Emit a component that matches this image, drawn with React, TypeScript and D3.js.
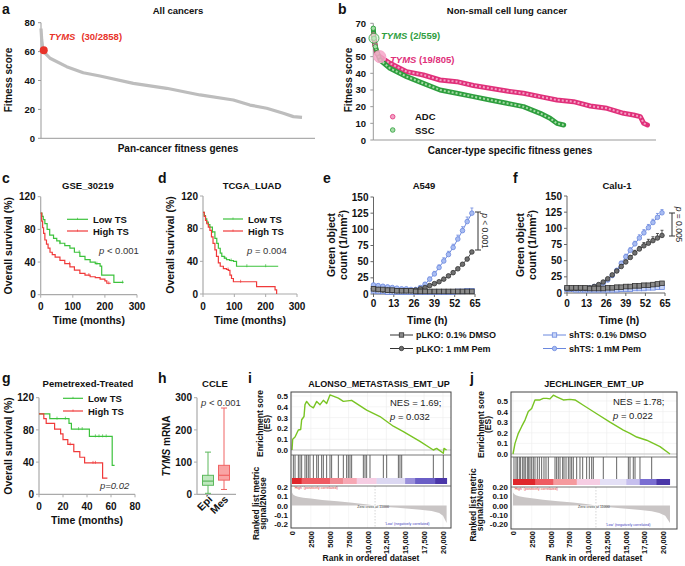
import React from 'react';
import * as d3 from 'd3';

const FONT = '"Liberation Sans", Arial, Helvetica, sans-serif';

// ---------------- Panel a ----------------
const aRank = [0, 8, 18, 44, 99, 281, 463, 646, 1011, 1376, 1741, 2106, 2288, 2471, 2653, 2763, 2858];
const aScore = [76, 68, 63, 59, 55.4, 49.6, 45.4, 43.1, 38, 34.6, 30, 26.5, 23, 20.8, 17.3, 15, 14.5];
const aYTicks = [0, 20, 40, 60, 80];
const aTyms = { rank: 30, score: 61 };

// ---------------- Panel b ----------------
const adcRank = [0, 3, 5, 10, 19, 49, 98, 147, 196, 245, 294, 343, 392, 441, 490, 539, 588, 637, 686, 735, 764, 784, 794, 805];
const adcScore = [63, 60, 57, 52, 50, 46, 41, 39, 36, 35, 32.7, 31, 29.4, 28, 26, 24, 23, 20.4, 19, 16, 15, 14, 10, 9];
const sscRank = [0, 2, 6, 12, 20, 49, 98, 147, 196, 245, 294, 343, 392, 441, 490, 519, 539, 559];
const sscScore = [67, 61, 56, 52, 48, 43, 38, 34, 30, 28, 26, 24, 22, 20, 16, 13, 10, 9];
const bYTicks = [0, 10, 20, 30, 40, 50, 60, 70];
const bTymsSsc = { rank: 2, score: 61 };
const bTymsAdc = { rank: 19, score: 50 };

// ---------------- Survival panels ----------------
const survYTicks = [0, 40, 80, 120];
const cXTicks = [0, 100, 200, 300];
const cLowT = [0, 4, 8, 13, 20, 28, 40, 50, 60, 75, 91, 105, 122, 138, 154, 170, 185, 190, 228, 258];
const cLowS = [100, 96, 92, 87, 80, 73, 69, 66, 63, 60, 57, 52, 47, 43, 40, 38, 35, 24, 15, 15];
const cHighT = [0, 3, 6, 9, 13, 18, 23, 29, 36, 45, 60, 75, 91, 105, 122, 138, 154, 170, 185, 200, 206, 218];
const cHighS = [100, 90, 82, 75, 67, 62, 57, 52, 49, 46, 42, 38, 34, 30, 26, 24, 22, 21, 19, 17, 14, 14];
const cLowCens = [60, 120, 175, 255];
const cHighCens = [90, 150, 212];

const dLowT = [0, 4, 8, 12, 17, 22, 30, 38, 44, 49, 55, 60, 68, 75, 85, 97, 107, 240];
const dLowS = [100, 96, 92, 88, 85, 82, 76, 68, 62, 56, 50, 46, 44, 42, 41, 40, 34, 34];
const dHighT = [0, 4, 8, 12, 17, 22, 27, 32, 38, 43, 49, 55, 65, 75, 81, 86, 91, 97, 166, 171, 224, 230, 235];
const dHighS = [100, 95, 90, 86, 82, 78, 70, 62, 54, 46, 38, 34, 31, 30, 29, 23, 19, 15, 15, 9, 9, 5, 0];
const dLowCens = [30, 70, 90, 140, 200];
const dHighCens = [80, 120];

const gXTicks = [0, 20, 40, 60, 80];
const gLowT = [0, 9, 25, 27, 42, 61, 63];
const gLowS = [100, 94, 88, 81, 72, 36, 36];
const gHighT = [0, 4, 6, 13, 18, 20, 24, 29, 34, 38, 53, 57];
const gHighS = [100, 94, 88, 81, 75, 68, 62, 53, 46, 39, 20, 20];
const gLowCens = [15, 22, 33, 36, 47, 50, 53, 56];
const gHighCens = [26, 45, 47];

// ---------------- Growth panels (e, f) ----------------
const growthTime = [0, 3, 6, 9, 12, 15, 18, 21, 24, 27, 30, 33, 36, 39, 42, 45, 48, 51, 54, 57, 60, 63];
const growthXTicks = [0, 13, 26, 39, 52, 65];
const growthYTicks = [0, 25, 50, 75, 100, 125, 150];
const eLkoDmso = [8, 7, 7, 6, 6, 5, 5, 5, 5, 4, 4, 4, 4, 4, 4, 4, 4, 4, 4, 4, 4, 4];
const eLkoPem = [8, 7, 6, 6, 5, 5, 5, 5, 5, 6, 8, 10, 13, 16, 19, 23, 28, 33, 39, 46, 54, 65];
const eLkoPemErr = [1, 1, 1, 1, 1, 1, 1, 1, 1, 1, 1, 1, 1, 1, 1, 2, 2, 2, 2, 2, 2, 2];
const eShDmso = [5, 4, 4, 3, 3, 3, 3, 3, 3, 3, 3, 3, 3, 3, 3, 3, 3, 3, 4, 4, 5, 5];
const eShPem = [14, 13, 12, 11, 10, 9, 8, 8, 7, 7, 10, 15, 23, 31, 41, 51, 61, 72, 85, 98, 112, 125];
const eShPemErr = [2, 2, 2, 1, 1, 1, 1, 1, 1, 1, 2, 3, 3, 4, 4, 5, 5, 5, 6, 6, 7, 8];

const fLkoDmso = [8, 8, 8, 8, 8, 7, 7, 7, 7, 8, 8, 9, 9, 10, 10, 11, 11, 12, 12, 13, 14, 15];
const fLkoPem = [7, 7, 7, 7, 7, 8, 10, 13, 17, 22, 28, 34, 41, 48, 55, 62, 68, 73, 77, 81, 85, 89];
const fLkoPemErr = [1, 1, 1, 1, 1, 1, 1, 1, 1, 2, 2, 2, 3, 3, 3, 4, 4, 5, 6, 6, 7, 8];
const fShDmso = [6, 6, 5, 5, 5, 5, 5, 5, 5, 5, 5, 5, 6, 6, 6, 7, 7, 7, 8, 8, 9, 9];
const fShPem = [7, 7, 7, 7, 7, 8, 10, 12, 15, 20, 27, 35, 46, 56, 66, 76, 85, 93, 101, 109, 117, 124];
const fShPemErr = [1, 1, 1, 1, 1, 1, 1, 1, 2, 2, 2, 3, 3, 4, 4, 4, 5, 5, 5, 5, 6, 5];

// ---------------- Panel h ----------------
const hGroups = ['Epi', 'Mes'];
const hMin = [3, 15];
const hQ1 = [28, 44];
const hMed = [41, 59];
const hQ3 = [59, 90];
const hMax = [131, 268];
const hYTicks = [0, 100, 200, 300];

// ---------------- GSEA panels ----------------
const rankTicks = [0, 2500, 5000, 7500, 10000, 12500, 15000, 17500, 20000];
const rankTickLabels = ['0', '2500', '5000', '7500', '10,000', '12,500', '15,000', '17,500', '20,000'];
const esTicks = [0, 0.1, 0.2, 0.3, 0.4, 0.5];
const metTicks = [0.2, 0.1, 0, -0.1, -0.2];

const iEsRank = [0, 90, 400, 840, 1150, 1280, 1590, 1720, 1940, 2380, 2830, 3270, 3710, 4150, 4590, 5030, 6140, 6800, 7900, 9890, 11650, 13420, 14750, 16950, 18720, 19160, 20040, 20130, 20480];
const iEsVal = [0.0, 0.1, 0.12, 0.185, 0.19, 0.28, 0.31, 0.42, 0.45, 0.41, 0.39, 0.45, 0.42, 0.46, 0.43, 0.51, 0.48, 0.45, 0.46, 0.37, 0.31, 0.22, 0.17, 0.08, 0.0, 0.015, -0.03, 0.015, 0.0];
const iHits = [180, 400, 840, 1060, 1280, 1720, 1940, 2160, 2380, 2830, 3270, 3490, 3930, 4150, 4590, 5030, 5250, 6140, 6800, 7240, 7460, 7680, 7900, 9450, 9670, 9890, 10330, 12100, 12540, 14090, 14300, 14530, 18720, 20040];
const iSegRank = [0, 1280, 5030, 6800, 8570, 11200, 14980, 16300, 18950, 20500];
const iSegColor = ['#e0262b', '#ef5b62', '#f08a92', '#f7a8b4', '#f6cde3', '#dcd8f2', '#9a90da', '#6a5ec6', '#4a36a8'];
const iMetRank = [0, 150, 400, 800, 1500, 2500, 4000, 6000, 8000, 10000, 11000, 12500, 14000, 15500, 17000, 18500, 19500, 20000, 20480];
const iMetVal = [0.14, 0.12, 0.105, 0.095, 0.085, 0.075, 0.06, 0.045, 0.03, 0.012, 0, -0.015, -0.025, -0.035, -0.045, -0.06, -0.08, -0.11, -0.19];

const jEsRank = [0, 270, 710, 1160, 1600, 2040, 2490, 2930, 3600, 4040, 4490, 4930, 5380, 5820, 6710, 7600, 8270, 9380, 11160, 12930, 14710, 15600, 16490, 17820, 18710, 19600, 20930];
const jEsVal = [0.0, 0.1, 0.195, 0.26, 0.32, 0.4, 0.43, 0.51, 0.51, 0.525, 0.525, 0.52, 0.555, 0.54, 0.51, 0.515, 0.51, 0.46, 0.38, 0.3, 0.225, 0.195, 0.16, 0.13, 0.1, 0.07, 0.0];
const jHits = [130, 400, 580, 840, 1020, 1290, 1470, 1640, 1910, 2090, 2270, 2490, 2710, 2930, 3240, 3510, 3820, 4130, 4400, 4710, 5600, 5820, 6040, 6270, 6620, 6800, 7070, 7380, 7600, 7820, 8040, 8490, 8930, 9290, 9820, 10180, 10490, 10710, 12040, 13820, 15380, 15600, 16040, 16270, 16930, 18490];
const jSegRank = [0, 3000, 5400, 8500, 11600, 15100, 16900, 19100, 20900];
const jSegColor = ['#e0262b', '#ef5b62', '#f59a9e', '#f6cde3', '#e4e0f6', '#c6bfee', '#7a6ed2', '#4a36a8'];
const jMetRank = [0, 150, 400, 800, 1500, 2500, 4000, 6000, 8000, 10000, 11058, 12500, 14000, 15500, 17000, 18500, 19500, 20300, 20930];
const jMetVal = [0.14, 0.125, 0.11, 0.1, 0.09, 0.078, 0.062, 0.047, 0.032, 0.013, 0, -0.015, -0.026, -0.037, -0.048, -0.062, -0.08, -0.11, -0.19];

// ---------------- helpers ----------------
const GREEN = '#3cc23c';
const RED = '#f03a3a';

function T(props: any) {
  const { children, ...rest } = props;
  return (
    <text fontFamily={FONT} fontWeight={700} fontSize={9.5} fill="#111" {...rest}>
      {children}
    </text>
  );
}

function Letter({ x, y, l }: any) {
  return <T x={x} y={y} fontSize={14}>{l}</T>;
}

function PanelA() {
  const x = d3.scaleLinear().domain([0, 3000]).range([41, 315]);
  const y = d3.scaleLinear().domain([0, 80]).range([138.3, 22.7]);
  const line = d3.line<number>().x((_, i) => x(aRank[i])).y((d) => y(d));
  return (
    <g>
      <Letter x={2} y={14} l="a" />
      <T x={178} y={14} textAnchor="middle">All cancers</T>
      <line x1={x(0)} x2={x(0)} y1={y(80)} y2={y(0)} stroke="#999" />
      <line x1={x(0)} x2={x(3000)} y1={y(0)} y2={y(0)} stroke="#999" />
      {aYTicks.map((t) => (
        <g key={t}>
          <line x1={x(0) - 3} x2={x(0)} y1={y(t)} y2={y(t)} stroke="#999" />
          <T x={35} y={y(t) + 3.5} textAnchor="end">{t}</T>
        </g>
      ))}
      <path d={line(aScore) || ''} fill="none" stroke="#bdbdbd" strokeWidth={3.2} strokeLinejoin="round" />
      <circle cx={x(aTyms.rank)} cy={y(aTyms.score)} r={4} fill="#e8332a" />
      <T x={49} y={40} fill="#e8332a">
        <tspan fontStyle="italic">TYMS</tspan>
        <tspan dx={6}>(30/2858)</tspan>
      </T>
      <T x={178} y={152} textAnchor="middle" fontSize={10}>Pan-cancer fitness genes</T>
      <T transform="translate(12,80) rotate(-90)" textAnchor="middle" fontSize={10}>Fitness score</T>
    </g>
  );
}

function PanelB() {
  const x = d3.scaleLinear().domain([0, 830]).range([373.3, 656]);
  const y = d3.scaleLinear().domain([0, 70]).range([140, 23.3]);
  const adcLine = d3.line<number>().x((_, i) => x(adcRank[i])).y((d) => y(d));
  const sscLine = d3.line<number>().x((_, i) => x(sscRank[i])).y((d) => y(d));
  const adcC = '#e0307a';
  const adcF = '#f3a0c4';
  const sscC = '#2e9e3e';
  const sscF = '#a6dca6';
  return (
    <g>
      <Letter x={338} y={14} l="b" />
      <T x={507} y={14} textAnchor="middle">Non-small cell lung cancer</T>
      <line x1={x(0)} x2={x(0)} y1={y(70)} y2={y(0)} stroke="#999" />
      <line x1={x(0)} x2={x(830)} y1={y(0)} y2={y(0)} stroke="#999" />
      {bYTicks.map((t) => (
        <g key={t}>
          <line x1={x(0) - 3} x2={x(0)} y1={y(t)} y2={y(t)} stroke="#999" />
          <T x={366} y={y(t) + 3.5} textAnchor="end">{t}</T>
        </g>
      ))}
      <path d={adcLine(adcScore) || ''} fill="none" stroke={adcC} strokeWidth={5} strokeLinejoin="round" strokeLinecap="round" />
      <path d={adcLine(adcScore) || ''} fill="none" stroke={adcF} strokeWidth={2} strokeLinejoin="round" strokeDasharray="2 2" />
      <path d={sscLine(sscScore) || ''} fill="none" stroke={sscC} strokeWidth={5} strokeLinejoin="round" strokeLinecap="round" />
      <path d={sscLine(sscScore) || ''} fill="none" stroke={sscF} strokeWidth={2} strokeLinejoin="round" strokeDasharray="2 2" />
      {adcRank.slice(0, 4).map((r, i) => (
        <circle key={'a' + i} cx={x(r)} cy={y(adcScore[i])} r={2.2} fill={adcF} stroke={adcC} strokeWidth={0.8} />
      ))}
      {sscRank.slice(0, 4).map((r, i) => (
        <circle key={'s' + i} cx={x(r)} cy={y(sscScore[i])} r={2.2} fill={sscF} stroke={sscC} strokeWidth={0.8} />
      ))}
      <circle cx={x(bTymsSsc.rank)} cy={y(bTymsSsc.score)} r={5} fill="#d6efd0" fillOpacity={0.6} stroke={sscC} strokeWidth={0.8} />
      <circle cx={x(bTymsAdc.rank)} cy={y(bTymsAdc.score)} r={6} fill="#f6a6c8" fillOpacity={0.85} stroke="#f6a6c8" />
      <T x={381} y={38.5} fill={sscC}>
        <tspan fontStyle="italic">TYMS</tspan> (2/559)
      </T>
      <T x={390} y={63} fill={adcC}>
        <tspan fontStyle="italic">TYMS</tspan> (19/805)
      </T>
      <circle cx={392.7} cy={116.7} r={2.3} fill={adcF} stroke={adcC} strokeWidth={0.8} />
      <T x={415} y={120}>ADC</T>
      <circle cx={392.7} cy={130} r={2.3} fill={sscF} stroke={sscC} strokeWidth={0.8} />
      <T x={415} y={133.5}>SSC</T>
      <T x={510} y={153.5} textAnchor="middle" fontSize={10}>Cancer-type specific fitness genes</T>
      <T transform="translate(352,80) rotate(-90)" textAnchor="middle" fontSize={10}>Fitness score</T>
    </g>
  );
}

function KM({ x, y, t, s, color, cens }: any) {
  const line = d3.line<number>().x((_, i) => x(t[i])).y((d) => y(d)).curve(d3.curveStepAfter);
  return (
    <g>
      <path d={line(s) || ''} fill="none" stroke={color} strokeWidth={1.2} />
      {cens.map((c: number, i: number) => {
        const idx = Math.max(0, d3.bisectRight(t, c) - 1);
        const v = s[idx];
        return <line key={i} x1={x(c)} x2={x(c)} y1={y(v) - 2} y2={y(v) + 1} stroke={color} strokeWidth={0.7} />;
      })}
    </g>
  );
}

function SurvPanel(p: any) {
  const x = d3.scaleLinear().domain([0, p.xMax]).range(p.xr);
  const y = d3.scaleLinear().domain([0, 120]).range(p.yr);
  return (
    <g>
      <Letter x={p.letterX} y={p.letterY} l={p.letter} />
      <T x={p.titleX} y={p.titleY} textAnchor="middle">{p.title}</T>
      <line x1={x(0)} x2={x(0)} y1={y(120)} y2={y(0)} stroke="#aaa" strokeWidth={1.2} />
      <line x1={x(0)} x2={x(p.xMax)} y1={y(0)} y2={y(0)} stroke="#aaa" strokeWidth={1.2} />
      {survYTicks.map((t) => (
        <g key={t}>
          <line x1={x(0) - 3} x2={x(0)} y1={y(t)} y2={y(t)} stroke="#aaa" />
          <T x={x(0) - 5} y={y(t) + 3.6} textAnchor="end" fontSize={10}>{t}</T>
        </g>
      ))}
      {p.xTicks.map((t: number) => (
        <g key={t}>
          <line x1={x(t)} x2={x(t)} y1={y(0)} y2={y(0) + 3} stroke="#aaa" />
          <T x={x(t)} y={p.tickY} textAnchor="middle" fontSize={10}>{t}</T>
        </g>
      ))}
      <KM x={x} y={y} t={p.lowT} s={p.lowS} color={GREEN} cens={p.lowCens} />
      <KM x={x} y={y} t={p.highT} s={p.highS} color={RED} cens={p.highCens} />
      <line x1={p.legX1} x2={p.legX2} y1={p.legY1} y2={p.legY1} stroke={GREEN} strokeWidth={1.2} />
      <line x1={(p.legX1 + p.legX2) / 2} x2={(p.legX1 + p.legX2) / 2} y1={p.legY1 - 1.5} y2={p.legY1 + 0.5} stroke={GREEN} strokeWidth={0.7} />
      <T x={p.legX2 + 5} y={p.legY1 + 3.5}>Low TS</T>
      <line x1={p.legX1} x2={p.legX2} y1={p.legY2} y2={p.legY2} stroke={RED} strokeWidth={1.2} />
      <line x1={(p.legX1 + p.legX2) / 2} x2={(p.legX1 + p.legX2) / 2} y1={p.legY2 - 1.5} y2={p.legY2 + 0.5} stroke={RED} strokeWidth={0.7} />
      <T x={p.legX2 + 5} y={p.legY2 + 3.5}>High TS</T>
      {p.pItalicAll ? (
        <T x={p.pX} y={p.pY} fontWeight={400} fontStyle="italic" fill="#333">{p.pRest}</T>
      ) : (
        <T x={p.pX} y={p.pY} fontWeight={400} fill="#333">
          <tspan fontStyle="italic">p</tspan>{p.pRest}
        </T>
      )}
      <T x={(p.xr[0] + p.xr[1]) / 2} y={p.xlabY} textAnchor="middle" fontSize={10.5}>Time (months)</T>
      <T transform={`translate(${p.ylabX},${(p.yr[0] + p.yr[1]) / 2}) rotate(-90)`} textAnchor="middle" fontSize={10.5}>Overall survival (%)</T>
    </g>
  );
}

function Series({ x, y, vals, err, kind, stroke, fill, lineColor }: any) {
  const line = d3.line<number>().x((_, i) => x(growthTime[i])).y((d) => y(d));
  return (
    <g>
      <path d={line(vals) || ''} fill="none" stroke={lineColor} strokeWidth={1} />
      {err &&
        vals.map((v: number, i: number) => (
          <g key={'e' + i}>
            <line x1={x(growthTime[i])} x2={x(growthTime[i])} y1={y(v)} y2={y(v + err[i])} stroke={stroke} strokeWidth={0.8} />
            <line x1={x(growthTime[i]) - 1.5} x2={x(growthTime[i]) + 1.5} y1={y(v + err[i])} y2={y(v + err[i])} stroke={stroke} strokeWidth={0.8} />
          </g>
        ))}
      {vals.map((v: number, i: number) =>
        kind === 'c' ? (
          <circle key={i} cx={x(growthTime[i])} cy={y(v)} r={2.3} fill={fill} stroke={stroke} strokeWidth={0.8} />
        ) : (
          <rect key={i} x={x(growthTime[i]) - 2.3} y={y(v) - 2.3} width={4.6} height={4.6} fill={fill} stroke={stroke} strokeWidth={0.8} />
        )
      )}
    </g>
  );
}

const BLUE_S = '#6b88de';
const BLUE_F = '#a9bdf2';
const BLUE_SQF = '#c9d6f8';
const GRAY_S = '#333';
const GRAY_F = '#707070';
const GRAY_SQF = '#8a8a8a';

function GrowthPanel(p: any) {
  const x = d3.scaleLinear().domain([0, 65]).range(p.xr);
  const y = d3.scaleLinear().domain([0, 150]).range(p.yr);
  return (
    <g>
      <Letter x={p.letterX} y={183} l={p.letter} />
      <T x={p.titleX} y={188.5} textAnchor="middle">{p.title}</T>
      <line x1={x(0)} x2={x(0)} y1={y(150)} y2={y(0)} stroke="#666" />
      <line x1={x(0)} x2={x(65)} y1={y(0)} y2={y(0)} stroke="#666" />
      {growthYTicks.map((t) => (
        <g key={t}>
          <line x1={x(0) - 3} x2={x(0)} y1={y(t)} y2={y(t)} stroke="#666" />
          <T x={x(0) - 5} y={y(t) + 3.6} textAnchor="end" fontSize={10}>{t}</T>
        </g>
      ))}
      {growthXTicks.map((t) => (
        <g key={t}>
          <line x1={x(t)} x2={x(t)} y1={y(0)} y2={y(0) + 3} stroke="#666" />
          <T x={x(t)} y={307} textAnchor="middle" fontSize={10}>{t}</T>
        </g>
      ))}
      <Series x={x} y={y} vals={p.shDmso} kind="s" stroke={BLUE_S} fill={BLUE_SQF} lineColor={BLUE_S} />
      <Series x={x} y={y} vals={p.shPem} err={p.shPemErr} kind="c" stroke={BLUE_S} fill={BLUE_F} lineColor={BLUE_S} />
      <Series x={x} y={y} vals={p.lkoPem} err={p.lkoPemErr} kind="c" stroke={GRAY_S} fill={GRAY_F} lineColor="#444" />
      <Series x={x} y={y} vals={p.lkoDmso} kind="s" stroke={GRAY_S} fill={GRAY_SQF} lineColor="#444" />
      <line x1={p.brX} x2={p.brX} y1={p.brY1} y2={p.brY2} stroke="#333" />
      <line x1={p.brX - 3} x2={p.brX + 3} y1={p.brY1} y2={p.brY1} stroke="#333" />
      <line x1={p.brX - 3} x2={p.brX + 3} y1={p.brY2} y2={p.brY2} stroke="#333" />
      <T transform={`translate(${p.brX + 4},${(p.brY1 + p.brY2) / 2}) rotate(90)`} textAnchor="middle" fontWeight={400} fontSize={8.5} fill="#333">
        <tspan fontStyle="italic">p</tspan>{p.pRest}
      </T>
      <T x={(p.xr[0] + p.xr[1]) / 2 + 3} y={323.5} textAnchor="middle" fontSize={10.5}>Time (h)</T>
      <T transform={`translate(${p.ylabX1},245) rotate(-90)`} textAnchor="middle" fontSize={10.5}>Green object</T>
      <T transform={`translate(${p.ylabX2},245) rotate(-90)`} textAnchor="middle" fontSize={10.5}>
        count (1/mm<tspan dy={-4} fontSize={7}>2</tspan><tspan dy={4}>)</tspan>
      </T>
    </g>
  );
}

function LegendItem({ x, y, kind, stroke, fill, label }: any) {
  return (
    <g>
      <line x1={x} x2={x + 23} y1={y} y2={y} stroke={stroke} strokeWidth={1} />
      {kind === 'c' ? (
        <circle cx={x + 11.5} cy={y} r={2.2} fill={fill} stroke={stroke} strokeWidth={0.8} />
      ) : (
        <rect x={x + 9.3} y={y - 2.2} width={4.4} height={4.4} fill={fill} stroke={stroke} strokeWidth={0.8} />
      )}
      <T x={x + 26} y={y + 3.3} fontSize={9}>{label}</T>
    </g>
  );
}

function PanelH() {
  const x = d3.scalePoint<string>().domain(hGroups).range([200, 232]).padding(0.5);
  const y = d3.scaleLinear().domain([0, 300]).range([494.3, 397.7]);
  const strokes = ['#5cb85c', '#f06464'];
  const fills = ['#bfe8bf', '#f9a4a4'];
  const bw = 11;
  return (
    <g>
      <Letter x={158} y={383} l="h" />
      <T x={215} y={387} textAnchor="middle">CCLE</T>
      <line x1={197} x2={197} y1={y(300)} y2={y(0)} stroke="#aaa" strokeWidth={1.2} />
      <line x1={197} x2={236} y1={y(0)} y2={y(0)} stroke="#aaa" strokeWidth={1.2} />
      {hYTicks.map((t) => (
        <g key={t}>
          <line x1={194} x2={197} y1={y(t)} y2={y(t)} stroke="#aaa" />
          <T x={192} y={y(t) + 3.6} textAnchor="end" fontSize={10}>{t}</T>
        </g>
      ))}
      {hGroups.map((g, i) => {
        const cx = x(g) as number;
        return (
          <g key={g}>
            <line x1={cx} x2={cx} y1={y(hMin[i])} y2={y(hMax[i])} stroke={strokes[i]} strokeWidth={1} />
            <line x1={cx - 3} x2={cx + 3} y1={y(hMax[i])} y2={y(hMax[i])} stroke={strokes[i]} />
            <line x1={cx - 3} x2={cx + 3} y1={y(hMin[i])} y2={y(hMin[i])} stroke={strokes[i]} />
            <rect x={cx - bw / 2} y={y(hQ3[i])} width={bw} height={y(hQ1[i]) - y(hQ3[i])} fill={fills[i]} stroke={strokes[i]} />
            <line x1={cx - bw / 2} x2={cx + bw / 2} y1={y(hMed[i])} y2={y(hMed[i])} stroke={strokes[i]} strokeWidth={1.2} />
            <T transform={`translate(${cx + 5},500) rotate(-45)`} textAnchor="end" fontSize={10.5}>{g}</T>
          </g>
        );
      })}
      <T x={201} y={406} fontWeight={400} fontSize={9.5} fill="#333">
        <tspan fontStyle="italic">p</tspan> &lt; 0.001
      </T>
      <T transform="translate(170,446) rotate(-90)" textAnchor="middle" fontSize={10}>
        <tspan fontStyle="italic">TYMS</tspan> mRNA
      </T>
    </g>
  );
}

function Gsea(p: any) {
  const x = d3.scaleLinear().domain([0, 20000]).range(p.rankRange);
  const es = d3.scaleLinear().domain([0, 0.5]).range([p.esZero, p.esHalf]);
  const met = d3.scaleLinear().domain([-0.2, 0.2]).range([p.metLow, p.metHigh]);
  const esLine = d3.line<number>().x((_, i) => x(p.esRank[i])).y((d) => es(d));
  const metArea = d3.area<number>().x((_, i) => x(p.metRank[i])).y0(met(0)).y1((d) => met(d));
  const L = p.left;
  const R = p.right;
  const cx = (L + R) / 2;
  return (
    <g>
      <Letter x={p.letterX} y={383} l={p.letter} />
      <T x={p.titleX} y={387} textAnchor="middle" fontSize={9}>{p.title}</T>
      {rankTicks.map((t) => (
        <line key={'gv' + t} x1={x(t)} x2={x(t)} y1={p.top} y2={p.sep1} stroke="#ececec" strokeWidth={0.6} />
      ))}
      {esTicks.map((t) => (
        <line key={'gh' + t} x1={L} x2={R} y1={es(t)} y2={es(t)} stroke="#ececec" strokeWidth={0.6} />
      ))}
      {rankTicks.map((t) => (
        <line key={'gv2' + t} x1={x(t)} x2={x(t)} y1={p.sep2} y2={p.bottom} stroke="#f0f0f0" strokeWidth={0.6} />
      ))}
      <line x1={L} x2={R} y1={es(0)} y2={es(0)} stroke="#bbb" strokeWidth={0.8} />
      <path d={esLine(p.esVal) || ''} fill="none" stroke="#79c423" strokeWidth={1.4} strokeLinejoin="round" />
      {p.hits.map((h: number, i: number) => (
        <line key={'h' + i} x1={x(h)} x2={x(h)} y1={p.sep1} y2={p.barTop} stroke="#222" strokeWidth={0.7} />
      ))}
      {p.segColor.map((c: string, i: number) => (
        <rect key={'s' + i} x={x(p.segRank[i])} y={p.barTop} width={x(p.segRank[i + 1]) - x(p.segRank[i]) + 0.3} height={p.barH} fill={c} />
      ))}
      <path d={metArea(p.metVal) || ''} fill="#c9c5c5" />
      <line x1={x(p.zeroCross)} x2={x(p.zeroCross)} y1={p.sep2} y2={p.bottom} stroke="#aaa" strokeWidth={0.5} strokeDasharray="1.5 1.5" />
      <text x={L + 3} y={p.barTop + p.barH + 4.5} fontSize={3.6} fill="#e04040" fontFamily={FONT}>'High' (positively correlated)</text>
      <text x={x(p.zeroCross) - 2} y={met(0) + 2.5} fontSize={3.6} fill="#333" fontFamily={FONT} textAnchor="middle">Zero cross at 11000</text>
      <text x={x(p.zeroCross) + 10} y={p.bottom - 3} fontSize={3.6} fill="#4040c0" fontFamily={FONT}>'Low' (negatively correlated)</text>
      <rect x={L} y={p.top} width={R - L} height={p.bottom - p.top} fill="none" stroke="#444" strokeWidth={1} />
      <line x1={L} x2={R} y1={p.sep1} y2={p.sep1} stroke="#555" strokeWidth={0.8} />
      <line x1={L} x2={R} y1={p.sep2} y2={p.sep2} stroke="#555" strokeWidth={0.8} />
      {esTicks.map((t) => (
        <T key={'et' + t} x={L - 3} y={es(t) + 3} textAnchor="end" fontSize={8}>{t.toFixed(1)}</T>
      ))}
      {metTicks.map((t) => (
        <T key={'mt' + t} x={L - 3} y={met(t) + 3} textAnchor="end" fontSize={8}>{t.toFixed(p.metDigits)}</T>
      ))}
      {rankTicks.map((t, i) => (
        <T key={'rt' + t} transform={`translate(${x(t) + 3},531) rotate(-90)`} textAnchor="end" fontSize={7.5}>{rankTickLabels[i]}</T>
      ))}
      <T x={cx} y={561} textAnchor="middle" fontSize={8.5}>Rank in ordered dataset</T>
      <T transform={`translate(${p.esLabX},${(p.top + p.sep1) / 2}) rotate(-90)`} textAnchor="middle" fontSize={8.5}>Enrichment sore</T>
      <T transform={`translate(${p.esLabX + 7},${(p.top + p.sep1) / 2}) rotate(-90)`} textAnchor="middle" fontSize={8.5}>(ES)</T>
      <T transform={`translate(${p.metLabX},${(p.sep1 + p.bottom) / 2 + 12}) rotate(-90)`} textAnchor="middle" fontSize={8.5}>Ranked list metric</T>
      <T transform={`translate(${p.metLabX + 7},${(p.sep1 + p.bottom) / 2 + 12}) rotate(-90)`} textAnchor="middle" fontSize={8.5}>signal2Noise</T>
      <T x={p.nesX} y={p.nesY} fontWeight={400} fontSize={9.5} fill="#222">{p.nes}</T>
      <T x={p.nesX} y={p.nesY + 14} fontWeight={400} fontSize={9.5} fill="#222">
        <tspan fontStyle="italic">p</tspan>{p.pRest}
      </T>
    </g>
  );
}

export default function App() {
  return (
    <svg width={685} height={566} viewBox="0 0 685 566" style={{ position: 'absolute', left: 0, top: 0, background: '#fff' }}>
      <rect x={0} y={0} width={685} height={566} fill="#fff" />
      <PanelA />
      <PanelB />
      <SurvPanel
        letter="c" letterX={2} letterY={183} title="GSE_30219" titleX={88} titleY={188.5}
        xr={[40.7, 137]} yr={[294.7, 196.7]} xMax={300} xTicks={cXTicks} tickY={310}
        lowT={cLowT} lowS={cLowS} highT={cHighT} highS={cHighS} lowCens={cLowCens} highCens={cHighCens}
        legX1={67} legX2={88} legY1={219.3} legY2={231} pX={99} pY={254} pRest=" < 0.001"
        xlabY={324} ylabX={12}
      />
      <SurvPanel
        letter="d" letterX={158} letterY={183} title="TCGA_LUAD" titleX={252} titleY={188.5}
        xr={[203, 297]} yr={[294, 196]} xMax={300} xTicks={cXTicks} tickY={310}
        lowT={dLowT} lowS={dLowS} highT={dHighT} highS={dHighS} lowCens={dLowCens} highCens={dHighCens}
        legX1={223} legX2={243} legY1={219} legY2={231} pX={247} pY={254} pRest=" = 0.004"
        xlabY={324} ylabX={174}
      />
      <GrowthPanel
        letter="e" letterX={323} title="A549" titleX={424} xr={[373.5, 475]} yr={[294, 197]}
        lkoDmso={eLkoDmso} lkoPem={eLkoPem} lkoPemErr={eLkoPemErr} shDmso={eShDmso} shPem={eShPem} shPemErr={eShPemErr}
        brX={478} brY1={212} brY2={250} pRest=" < 0.001" ylabX1={335} ylabX2={347}
      />
      <GrowthPanel
        letter="f" letterX={513} title="Calu-1" titleX={617} xr={[567, 665]} yr={[293, 196]}
        lkoDmso={fLkoDmso} lkoPem={fLkoPem} lkoPemErr={fLkoPemErr} shDmso={fShDmso} shPem={fShPem} shPemErr={fShPemErr}
        brX={672} brY1={213} brY2={236} pRest=" = 0.005" ylabX1={524} ylabX2={536}
      />
      <LegendItem x={390} y={335} kind="s" stroke={GRAY_S} fill={GRAY_SQF} label="pLKO: 0.1% DMSO" />
      <LegendItem x={390} y={348.5} kind="c" stroke={GRAY_S} fill={GRAY_F} label="pLKO: 1 mM Pem" />
      <LegendItem x={543} y={335} kind="s" stroke={BLUE_S} fill={BLUE_SQF} label="shTS: 0.1% DMSO" />
      <LegendItem x={543} y={348.5} kind="c" stroke={BLUE_S} fill={BLUE_F} label="shTS: 1 mM Pem" />
      <SurvPanel
        letter="g" letterX={2} letterY={383} title="Pemetrexed-Treated" titleX={88} titleY={387}
        xr={[39, 135]} yr={[494.3, 397.7]} xMax={80} xTicks={gXTicks} tickY={510}
        lowT={gLowT} lowS={gLowS} highT={gHighT} highS={gHighS} lowCens={gLowCens} highCens={gHighCens}
        legX1={63} legX2={83} legY1={398.3} legY2={411} pX={100} pY={488.5} pRest="p=0.02" pItalicAll
        xlabY={524} ylabX={12}
      />
      <PanelH />
      <Gsea
        letter="i" letterX={248} title="ALONSO_METASTASIS_EMT_UP" titleX={379}
        left={291} right={451} top={392} sep1={455} barTop={478} barH={6} sep2={486} bottom={528}
        rankRange={[292, 443]} esZero={450} esHalf={396} metLow={524} metHigh={487}
        esRank={iEsRank} esVal={iEsVal} hits={iHits} segRank={iSegRank} segColor={iSegColor}
        metRank={iMetRank} metVal={iMetVal} zeroCross={11000} metDigits={1}
        esLabX={263} metLabX={259} nes="NES = 1.69;" nesX={390} nesY={406} pRest=" = 0.032"
      />
      <Gsea
        letter="j" letterX={470} title="JECHLINGER_EMT_UP" titleX={594}
        left={511} right={677} top={392} sep1={457} barTop={479} barH={6} sep2={487} bottom={529}
        rankRange={[513, 663]} esZero={454} esHalf={401} metLow={524} metHigh={487}
        esRank={jEsRank} esVal={jEsVal} hits={jHits} segRank={jSegRank} segColor={jSegColor}
        metRank={jMetRank} metVal={jMetVal} zeroCross={11058} metDigits={2}
        esLabX={484} metLabX={476} nes="NES = 1.78;" nesX={613} nesY={405} pRest=" = 0.022"
      />
    </svg>
  );
}
